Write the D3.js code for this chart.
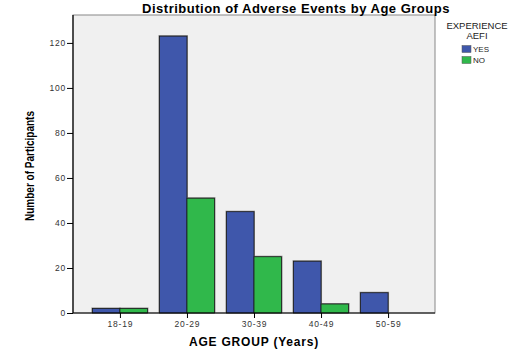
<!DOCTYPE html>
<html>
<head>
<meta charset="utf-8">
<script src="https://cdn.jsdelivr.net/npm/d3@7"></script>
<style>
  body { margin: 0; background: #fff; }
  text { font-family: Arial, "Liberation Sans", sans-serif; }
</style>
</head>
<body>
<div class="chart"></div>
<script>
const categories = ['18-19', '20-29', '30-39', '40-49', '50-59'];
const seriesNames = ['YES', 'NO'];
const yesValues = [2, 123, 45, 23, 9];
const noValues = [2, 51, 25, 4, 0];
const yTicks = [0, 20, 40, 60, 80, 100, 120];

const width = 521, height = 354;
const plotLeft = 73, plotRight = 435, plotTop = 15, plotBottom = 313;
const colors = { YES: '#3f57ab', NO: '#30b84b' };

const svg = d3.select('div.chart').append('svg').attr('width', width).attr('height', height);

const x = d3.scalePoint().domain(categories).range([plotLeft, plotRight]).padding(0.7);
const sub = d3.scaleBand().domain(seriesNames).range([-27.5, 27.5]).padding(0);
const y = d3.scaleLinear().domain([0, 132.4]).range([plotBottom, plotTop]);

svg.append('rect')
    .attr('x', plotLeft).attr('y', plotTop)
    .attr('width', plotRight - plotLeft).attr('height', plotBottom - plotTop)
    .attr('fill', '#f0f0f0').attr('stroke', '#888').attr('stroke-width', 1);

const rows = categories.map((c, i) => ({ cat: c, YES: yesValues[i], NO: noValues[i] }));
const bars = [];
rows.forEach(r => seriesNames.forEach(s => bars.push({ cat: r.cat, key: s, value: r[s] })));

const barGroup = svg.append('g');
// shadow
barGroup.selectAll('rect.shadow')
    .data(bars.filter(d => d.value > 0))
    .enter().append('rect')
    .attr('x', d => x(d.cat) + sub(d.key) - 1)
    .attr('y', d => y(d.value) - 1)
    .attr('width', sub.bandwidth() + 2)
    .attr('height', d => y(0) - y(d.value) + 1)
    .attr('fill', '#8a8a8a');
barGroup.selectAll('rect.bar')
    .data(bars.filter(d => d.value > 0))
    .enter().append('rect')
    .attr('x', d => x(d.cat) + sub(d.key))
    .attr('y', d => y(d.value))
    .attr('width', sub.bandwidth())
    .attr('height', d => y(0) - y(d.value))
    .attr('fill', d => colors[d.key])
    .attr('stroke', '#1a1a1a').attr('stroke-width', 0.8);

const yAxis = d3.axisLeft(y).tickValues(yTicks).tickSize(6).tickPadding(1);
const gy = svg.append('g').attr('transform', `translate(${plotLeft},0)`).call(yAxis);
const xAxis = d3.axisBottom(x).tickSize(5).tickPadding(3);
const gx = svg.append('g').attr('transform', `translate(0,${plotBottom})`).call(xAxis);
[gy, gx].forEach(g => {
    g.select('.domain').attr('stroke', '#000').attr('stroke-width', 1.2);
    g.selectAll('.tick line').attr('stroke', '#000');
    g.selectAll('.tick text').attr('font-size', 8.5).attr('fill', '#333')
        .attr('letter-spacing', 0.8)
        .style('font-family', 'Arial, "Liberation Sans", sans-serif');
});
gy.select('.domain').attr('d', `M0,${plotTop}V${plotBottom}`);
gx.select('.domain').attr('d', `M${plotLeft},0H${plotRight}`);

svg.append('text')
    .attr('x', 296).attr('y', 13)
    .attr('text-anchor', 'middle')
    .attr('font-size', 13).attr('font-weight', 'bold')
    .attr('letter-spacing', 0.5)
    .text('Distribution of Adverse Events by Age Groups');

svg.append('text')
    .attr('transform', `translate(34,${(plotTop + plotBottom) / 2 + 2}) rotate(-90)`)
    .attr('text-anchor', 'middle')
    .attr('font-size', 12).attr('font-weight', 'bold')
    .attr('textLength', 110).attr('lengthAdjust', 'spacingAndGlyphs')
    .text('Number of Participants');

svg.append('text')
    .attr('x', 254).attr('y', 346)
    .attr('text-anchor', 'middle')
    .attr('font-size', 12).attr('font-weight', 'bold')
    .attr('letter-spacing', 0.8)
    .text('AGE GROUP (Years)');

const legend = svg.append('g');
legend.append('text').attr('x', 477).attr('y', 29).attr('text-anchor', 'middle')
    .attr('font-size', 9.5).attr('fill', '#222').text('EXPERIENCE');
legend.append('text').attr('x', 477).attr('y', 39).attr('text-anchor', 'middle')
    .attr('font-size', 9.5).attr('fill', '#222').text('AEFI');
seriesNames.forEach((s, i) => {
    legend.append('rect').attr('x', 462).attr('y', 45.5 + i * 11)
        .attr('width', 9).attr('height', 7)
        .attr('fill', colors[s]).attr('stroke', '#555').attr('stroke-width', 0.5);
    legend.append('text').attr('x', 473).attr('y', 52 + i * 11)
        .attr('font-size', 8).attr('fill', '#222').text(s);
});
</script>
</body>
</html>
